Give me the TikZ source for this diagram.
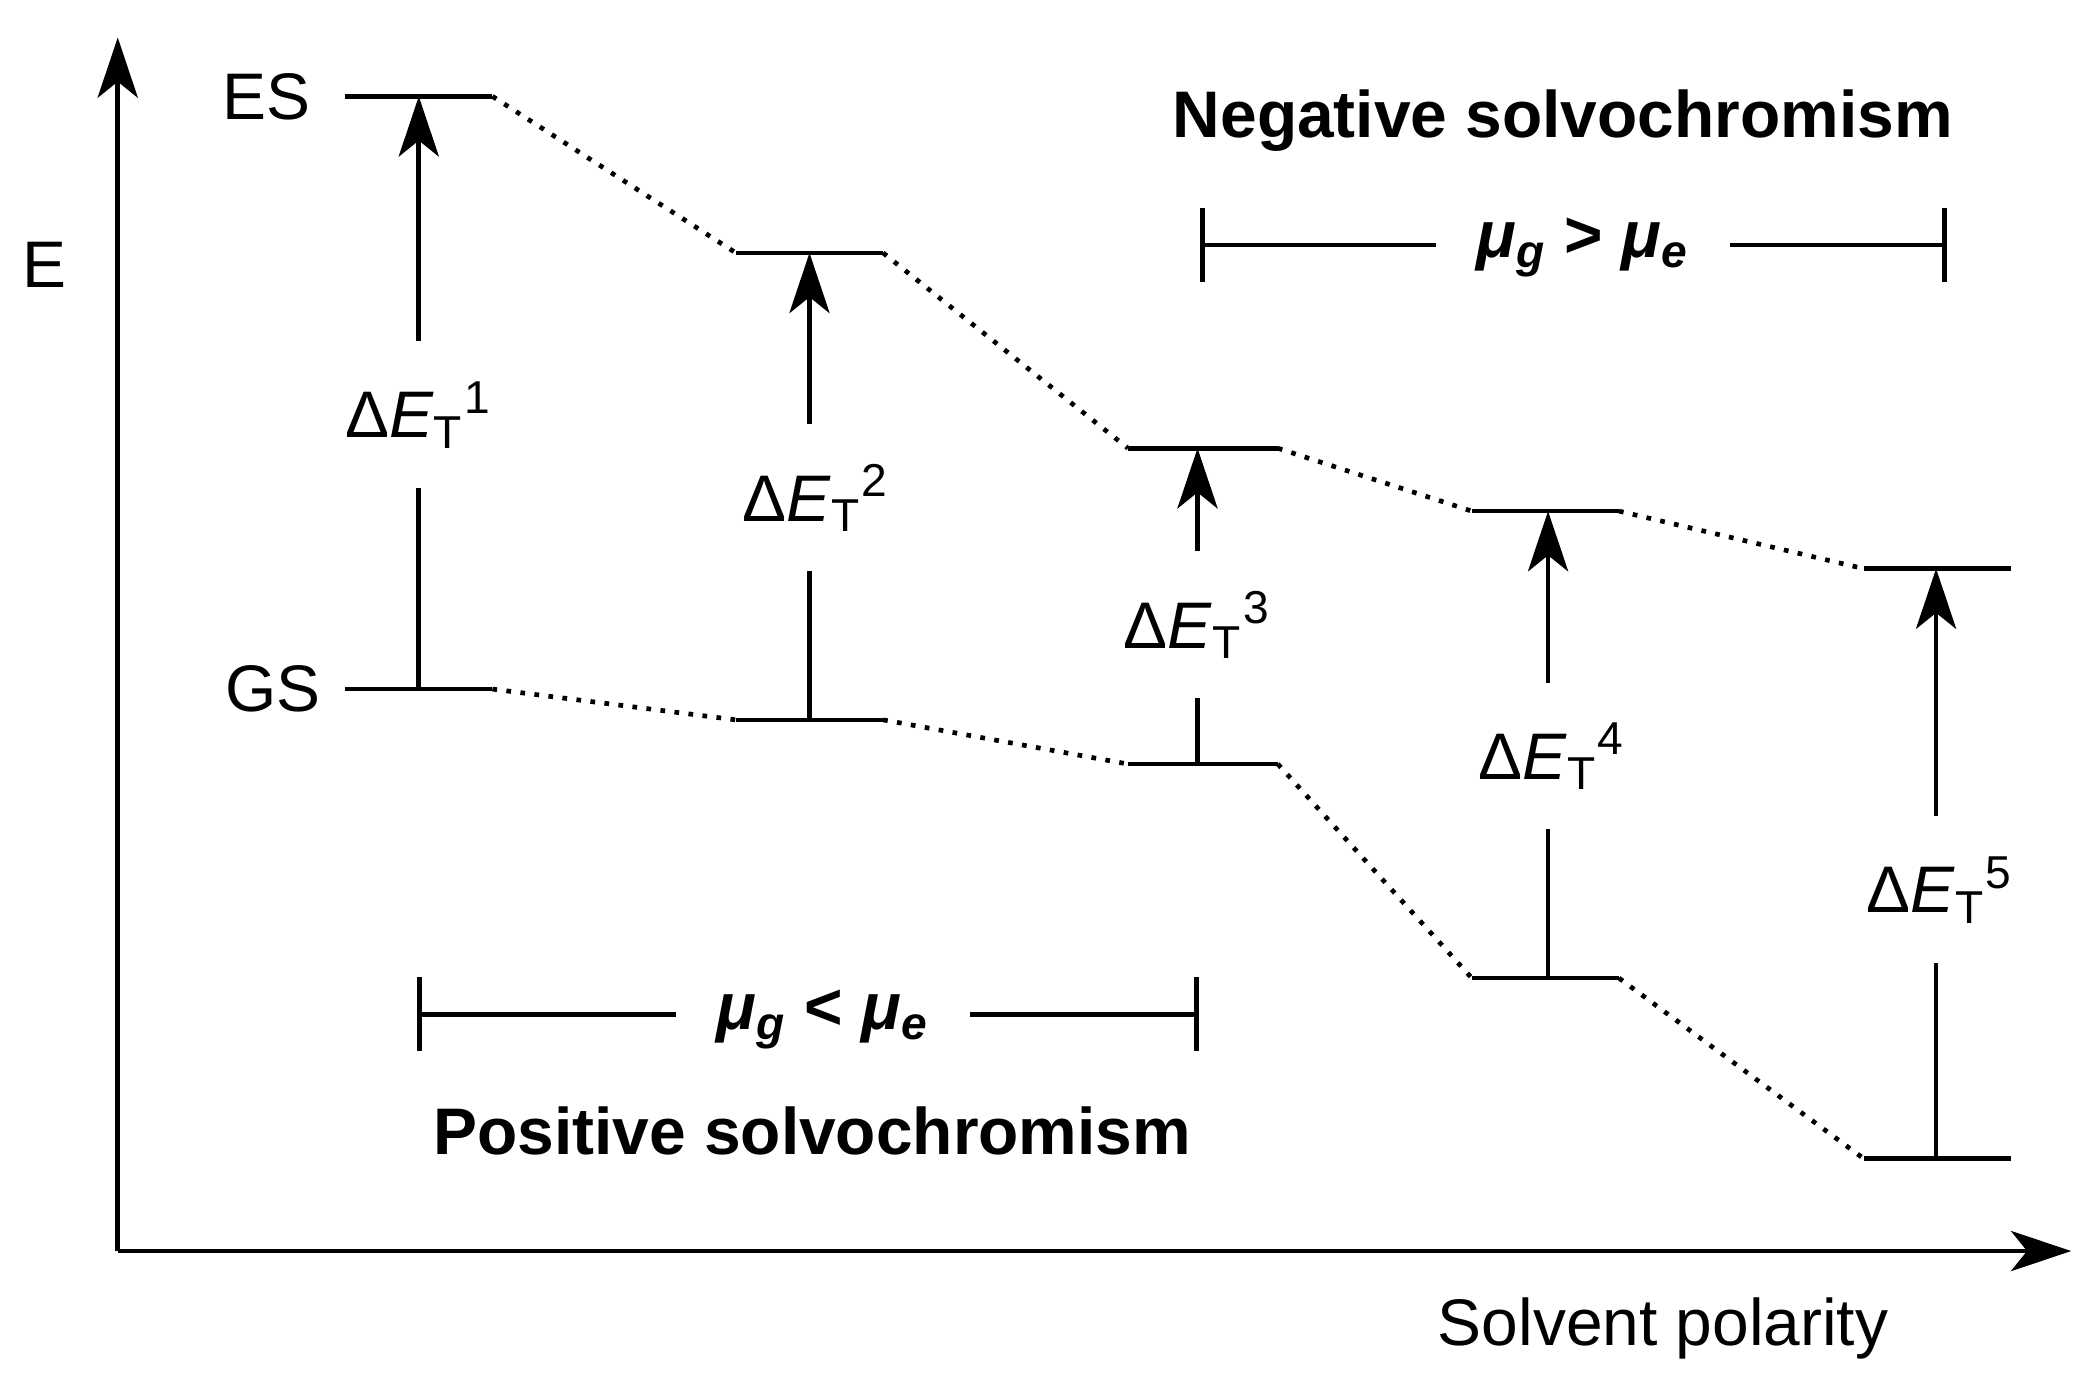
\documentclass[tikz,border=0pt]{standalone}
\usepackage{fontspec}
\setmainfont{Liberation Sans}
\usetikzlibrary{arrows.meta}
\newcommand\dET[1]{Δ\textit{E}\textsubscript{T}\textsuperscript{#1}}
\newcommand\mub[1]{\textbf{\textit{μ}\textsubscript{\textit{#1}}}}
\begin{document}
\begin{tikzpicture}[x=0.01cm,y=-0.01cm,
  lvl/.style={line width=1pt},
  dot/.style={dotted,line width=1pt},
  ar/.style={line width=1pt,-{Stealth[length=0.45cm,width=0.3cm,inset=0.12cm]}},
  lab/.style={fill=white,inner xsep=1pt,inner ysep=0.3cm,font=\fontsize{14}{16}\selectfont},
  txt/.style={font=\fontsize{14}{16}\selectfont},
  btxt/.style={font=\fontsize{14}{16}\selectfont\bfseries},
  brk/.style={line width=1pt,{|[width=0.55cm]}-{|[width=0.55cm]}}]
\useasboundingbox (0,0) rectangle (1568,1036);
\coordinate (O) at (88,935);
\coordinate (Ytop) at (88,28);
\coordinate (Xend) at (1548,935);
\draw[ar] (O) -- (Ytop);
\draw[ar] (O) -- (Xend);
\node[txt] (Elab) at (33,198) {E};
\node[txt] (ES) at (199,72) {ES};
\node[txt] (GS) at (204,515) {GS};
\node[txt] (SP) at (1243,993) {Solvent polarity};
% levels
\foreach \n/\xa/\xb/\xm/\ye/\yg in {1/258/368/313/72/515, 2/550/660/605/189/538, 3/843/955/895/335/571, 4/1100/1210/1157/382/731, 5/1393/1503/1447/425/866}{
  \coordinate (e\n a) at (\xa,\ye); \coordinate (e\n b) at (\xb,\ye);
  \coordinate (g\n a) at (\xa,\yg); \coordinate (g\n b) at (\xb,\yg);
  \coordinate (e\n m) at (\xm,\ye); \coordinate (g\n m) at (\xm,\yg);
  \draw[lvl] (e\n a) -- (e\n b);
  \draw[lvl] (g\n a) -- (g\n b);
  \draw[ar] (g\n m) -- (e\n m);
}
\foreach \a/\b in {1/2,2/3,3/4,4/5}{
  \draw[dot] (e\a b) -- (e\b a);
  \draw[dot] (g\a b) -- (g\b a);
}
\node[lab] (L1) at (313,310) {\dET{1}};
\node[lab] (L2) at (610,372) {\dET{2}};
\node[lab] (L3) at (895,467) {\dET{3}};
\node[lab] (L4) at (1160,565) {\dET{4}};
\node[lab] (L5) at (1450,665) {\dET{5}};
% brackets
\coordinate (b1) at (312,758); \coordinate (b2) at (896,758);
\draw[brk] (b1) -- (b2);
\node[fill=white,inner xsep=0.3cm,txt] (M1) at (615,762) {\mub{g} \textbf{<} \mub{e}};
\coordinate (t1) at (897,183); \coordinate (t2) at (1455,183);
\draw[brk] (t1) -- (t2);
\node[fill=white,inner xsep=0.3cm,txt] (M2) at (1183,185) {\mub{g} \textbf{>} \mub{e}};
\node[btxt] (Pos) at (607,845) {Positive solvochromism};
\node[btxt] (Neg) at (1168,90) {Negative solvochromism};
\end{tikzpicture}
\end{document}
